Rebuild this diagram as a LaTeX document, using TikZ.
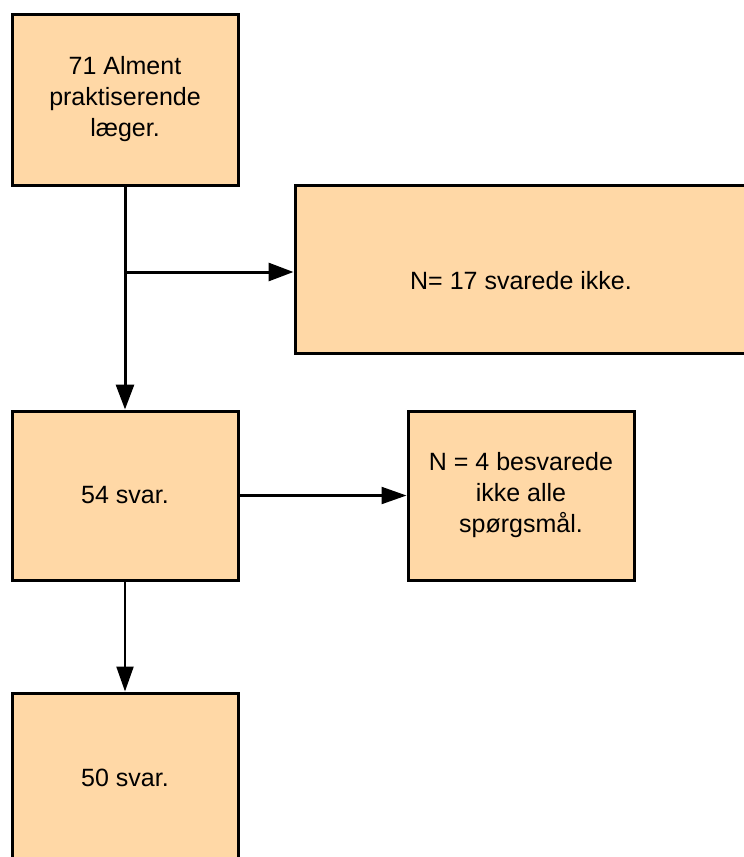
\documentclass[tikz,border=0pt]{standalone}
\usepackage{fontspec}
\setmainfont{Liberation Sans}
\usetikzlibrary{arrows.meta}
\definecolor{boxfill}{RGB}{255,216,166}
\tikzset{
  flowbox/.style={draw=black,fill=boxfill,line width=3pt,align=center,
    minimum width=226pt,minimum height=169pt,inner sep=0pt,
    font=\fontsize{25}{31}\selectfont},
  flowarrow/.style={line width=3pt,-{Triangle[length=25pt,width=18pt]}},
  thinarrow/.style={line width=2.2pt,-{Triangle[length=25pt,width=17pt]}}
}
\begin{document}
\begin{tikzpicture}[x=1pt,y=-1pt]
    \useasboundingbox (0,0) rectangle (744,857);
    \clip (0,0) rectangle (744,857);
    % boxes
    \node[flowbox,minimum height=171pt] (laeger) at (125,99.5) {71 Alment\\praktiserende\\læger.};
    \node[flowbox,minimum width=452pt,minimum height=168pt,text height=46pt,text depth=5pt] (ikke) at (521,269) {N= 17 svarede ikke.};
    \node[flowbox] (svar54) at (125,495.5) {54 svar.};
    \node[flowbox] (delvis) at (521,495.5) {N = 4 besvarede\\ikke alle\\spørgsmål.};
    \node[flowbox] (svar50) at (125,777.5) {50 svar.};
    % connectors
    \coordinate (split) at (125,272);
    \draw[flowarrow] (laeger.south) -- (svar54.north);
    \draw[flowarrow] (split) -- (split -| ikke.west);
    \draw[thinarrow] (svar54.east) -- (delvis.west);
    \draw[thinarrow] (svar54.south) -- (svar50.north);
\end{tikzpicture}
\end{document}
